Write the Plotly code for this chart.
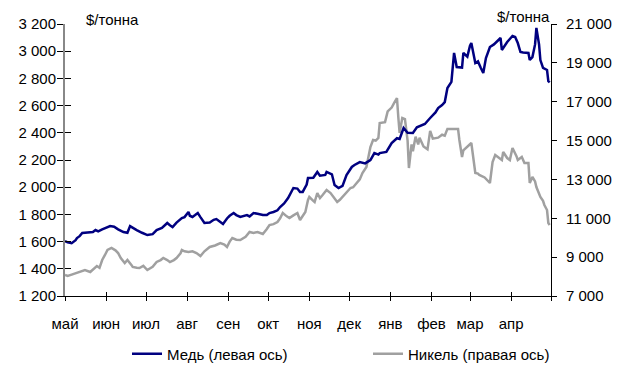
import plotly.graph_objects as go

# LME cash prices, May 2003 - April 2004
copper_dates = [
    "2003-05-01", "2003-05-03", "2003-05-06", "2003-05-09", "2003-05-10", "2003-05-12",
    "2003-05-14", "2003-05-18", "2003-05-22", "2003-05-24", "2003-05-26", "2003-05-29",
    "2003-06-01", "2003-06-04", "2003-06-07", "2003-06-10", "2003-06-14", "2003-06-17",
    "2003-06-19", "2003-06-22", "2003-06-24", "2003-06-28", "2003-07-02", "2003-07-06",
    "2003-07-09", "2003-07-13", "2003-07-17", "2003-07-19", "2003-07-21", "2003-07-24",
    "2003-07-28", "2003-07-30", "2003-08-02", "2003-08-03", "2003-08-05", "2003-08-07",
    "2003-08-09", "2003-08-11", "2003-08-14", "2003-08-18", "2003-08-21", "2003-08-23",
    "2003-08-26", "2003-08-28", "2003-08-31", "2003-09-02", "2003-09-05", "2003-09-07",
    "2003-09-10", "2003-09-13", "2003-09-15", "2003-09-17", "2003-09-20", "2003-09-23",
    "2003-09-27", "2003-09-30", "2003-10-02", "2003-10-05", "2003-10-08", "2003-10-10",
    "2003-10-13", "2003-10-16", "2003-10-20", "2003-10-23", "2003-10-25", "2003-10-27",
    "2003-10-30", "2003-10-31", "2003-11-04", "2003-11-07", "2003-11-09", "2003-11-13",
    "2003-11-14", "2003-11-18", "2003-11-20", "2003-11-23", "2003-11-26", "2003-11-29",
    "2003-12-03", "2003-12-05", "2003-12-09", "2003-12-13", "2003-12-17", "2003-12-20",
    "2003-12-23", "2003-12-24", "2003-12-27", "2003-12-29", "2004-01-02", "2004-01-06",
    "2004-01-08", "2004-01-10", "2004-01-11", "2004-01-14", "2004-01-18", "2004-01-21",
    "2004-01-23", "2004-01-27", "2004-01-31", "2004-02-04", "2004-02-06", "2004-02-09",
    "2004-02-11", "2004-02-13", "2004-02-16", "2004-02-18", "2004-02-20", "2004-02-22",
    "2004-02-24", "2004-02-25", "2004-02-28", "2004-03-01", "2004-03-02", "2004-03-05",
    "2004-03-07", "2004-03-09", "2004-03-11", "2004-03-13", "2004-03-16", "2004-03-19",
    "2004-03-21", "2004-03-24", "2004-03-25", "2004-03-27", "2004-03-29", "2004-04-02",
    "2004-04-04", "2004-04-06", "2004-04-08", "2004-04-10", "2004-04-14", "2004-04-15",
    "2004-04-17", "2004-04-19", "2004-04-20", "2004-04-22", "2004-04-23", "2004-04-25",
    "2004-04-28", "2004-04-29", "2004-04-30",
]
copper_usd = [
    1604, 1595, 1588, 1610, 1626, 1640, 1663, 1667, 1670, 1685, 1675, 1690,
    1700, 1714, 1710, 1690, 1670, 1665, 1714, 1700, 1685, 1665, 1648, 1655,
    1685, 1700, 1737, 1720, 1707, 1740, 1773, 1780, 1818, 1790, 1781, 1795,
    1810, 1780, 1737, 1740, 1760, 1766, 1745, 1729, 1770, 1790, 1810, 1795,
    1781, 1790, 1795, 1785, 1810, 1805, 1795, 1795, 1810, 1818, 1830, 1854,
    1880, 1920, 1994, 1990, 1965, 1965, 2020, 2068, 2070, 2112, 2085, 2090,
    2112, 2095, 2016, 1994, 2010, 2090, 2149, 2163, 2185, 2175, 2200, 2251,
    2240, 2251, 2255, 2259, 2325, 2360, 2355, 2421, 2435, 2400, 2399, 2440,
    2450, 2465, 2509, 2550, 2582, 2604, 2626, 2729, 2774, 2987, 2884, 2884,
    2880, 2987, 2960, 3040, 3060, 2913, 2925, 2880, 2840, 2950, 3031, 3050,
    3068, 3097, 3009, 3040, 3068, 3112, 3104, 3060, 2994, 2990, 2987, 2935,
    2957, 3050, 3171, 3050, 2935, 2877, 2862, 2780, 2770,
]

nickel_dates = [
    "2003-05-01", "2003-05-03", "2003-05-06", "2003-05-10", "2003-05-13", "2003-05-16",
    "2003-05-20", "2003-05-23", "2003-05-25", "2003-05-27", "2003-05-29", "2003-05-31",
    "2003-06-02", "2003-06-05", "2003-06-08", "2003-06-10", "2003-06-12", "2003-06-15",
    "2003-06-17", "2003-06-20", "2003-06-21", "2003-06-24", "2003-06-26", "2003-06-29",
    "2003-07-02", "2003-07-06", "2003-07-09", "2003-07-12", "2003-07-14", "2003-07-17",
    "2003-07-19", "2003-07-22", "2003-07-24", "2003-07-27", "2003-07-28", "2003-07-30",
    "2003-08-02", "2003-08-05", "2003-08-08", "2003-08-11", "2003-08-14", "2003-08-18",
    "2003-08-22", "2003-08-26", "2003-08-29", "2003-08-31", "2003-09-02", "2003-09-04",
    "2003-09-07", "2003-09-10", "2003-09-14", "2003-09-17", "2003-09-20", "2003-09-23",
    "2003-09-25", "2003-09-27", "2003-09-30", "2003-10-02", "2003-10-05", "2003-10-08",
    "2003-10-10", "2003-10-12", "2003-10-15", "2003-10-17", "2003-10-20", "2003-10-23",
    "2003-10-25", "2003-10-26", "2003-10-29", "2003-10-31", "2003-11-01", "2003-11-04",
    "2003-11-05", "2003-11-07", "2003-11-09", "2003-11-11", "2003-11-14", "2003-11-17",
    "2003-11-19", "2003-11-22", "2003-11-24", "2003-11-26", "2003-11-29", "2003-12-02",
    "2003-12-04", "2003-12-07", "2003-12-09", "2003-12-11", "2003-12-13", "2003-12-14",
    "2003-12-17", "2003-12-19", "2003-12-21", "2003-12-23", "2003-12-24", "2003-12-28",
    "2003-12-30", "2004-01-02", "2004-01-04", "2004-01-06", "2004-01-07", "2004-01-08",
    "2004-01-10", "2004-01-12", "2004-01-14", "2004-01-15", "2004-01-17", "2004-01-18",
    "2004-01-20", "2004-01-22", "2004-01-23", "2004-01-26", "2004-01-29", "2004-01-31",
    "2004-02-02", "2004-02-06", "2004-02-09", "2004-02-11", "2004-02-13", "2004-02-17",
    "2004-02-21", "2004-02-22", "2004-02-24", "2004-02-25", "2004-02-28", "2004-03-02",
    "2004-03-05", "2004-03-07", "2004-03-08", "2004-03-12", "2004-03-16", "2004-03-18",
    "2004-03-20", "2004-03-23", "2004-03-25", "2004-03-26", "2004-03-29", "2004-03-31",
    "2004-04-02", "2004-04-05", "2004-04-06", "2004-04-09", "2004-04-11", "2004-04-14",
    "2004-04-15", "2004-04-17", "2004-04-19", "2004-04-20", "2004-04-23", "2004-04-25",
    "2004-04-26", "2004-04-28", "2004-04-29", "2004-04-30",
]
nickel_usd = [
    8081, 8030, 8100, 8184, 8250, 8338, 8235, 8400, 8544, 8450, 8853, 9100,
    9368, 9471, 9350, 9213, 8950, 8699, 8853, 8600, 8493, 8450, 8441, 8550,
    8338, 8500, 8750, 8850, 8956, 8850, 8750, 8850, 8956, 9200, 9368, 9300,
    9265, 9300, 9213, 9059, 9300, 9522, 9600, 9728, 9650, 9522, 9800, 9985,
    9900, 9882, 10050, 10294, 10250, 10294, 10250, 10191, 10450, 10654, 10700, 10809,
    11000, 11272, 11100, 11015, 11150, 11272, 10912, 11015, 11323, 11941, 12096, 11900,
    11838, 12301, 12044, 12200, 12456, 12300, 12096, 11838, 11950, 12096, 12300, 12559,
    12600, 12816, 13000, 13330, 13500, 13640, 14669, 15029, 15000, 15132, 15904, 15950,
    16500, 16700, 16950, 17191, 16213, 15390, 16162, 16100, 15000, 13588, 14800, 14450,
    15200, 14800, 15150, 14700, 14550, 15500, 15100, 15150, 15300, 15250, 15600, 15600,
    15600, 15029, 14154, 14500, 14700, 14875, 13330, 13300, 13228, 13100, 12816, 13897,
    14257, 14100, 14000, 14412, 14100, 14000, 14618, 14200, 14000, 14154, 13845, 13845,
    12816, 13125, 12900, 12610, 12096, 11900, 11684, 11426, 10757, 10654,
]

month_starts = [
    "2003-05-01", "2003-06-01", "2003-07-01", "2003-08-01", "2003-09-01", "2003-10-01",
    "2003-11-01", "2003-12-01", "2004-01-01", "2004-02-01", "2004-03-01", "2004-04-01",
    "2004-05-01",
]
month_labels = ["май", "июн", "июл", "авг", "сен", "окт", "ноя", "дек",
                "янв", "фев", "мар", "апр", ""]

copper_ticks = list(range(1200, 3201, 200))
nickel_ticks = list(range(7000, 21001, 2000))

FONT = "Liberation Sans, Arial, sans-serif"
NAVY = "#000080"
GREY = "#a0a0a0"
X_RANGE = ["2003-05-01", "2004-05-01"]

axis_font = dict(family=FONT, size=15, color="#000000")

fig = go.Figure()
# nickel first so the copper line is drawn on top
fig.add_trace(go.Scatter(
    x=nickel_dates, y=nickel_usd, mode="lines", name="Никель (правая ось)",
    line=dict(color=GREY, width=2.5), xaxis="x", yaxis="y2", legend="legend2",
))
fig.add_trace(go.Scatter(
    x=copper_dates, y=copper_usd, mode="lines", name="Медь (левая ось)",
    line=dict(color=NAVY, width=2.5), xaxis="x", yaxis="y", legend="legend",
))
# empty trace so the overlay tick axes are drawn
fig.add_trace(go.Scatter(x=[], y=[], xaxis="x2", yaxis="y3", showlegend=False, hoverinfo="skip"))

legend_style = dict(
    orientation="h", xref="container", yref="container",
    xanchor="left", yanchor="middle", y=0.0407,
    font=dict(family=FONT, size=15, color="#000000"),
    bgcolor="rgba(0,0,0,0)", borderwidth=0,
)

fig.update_layout(
    width=623, height=369,
    margin=dict(l=65, r=72, t=24, b=73, autoexpand=False),
    paper_bgcolor="white", plot_bgcolor="white",
    separators=". ",
    font=axis_font,
    showlegend=True,
    legend=dict(x=127 / 623, **legend_style),
    legend2=dict(x=368 / 623, **legend_style),
    # date axis with month ticks (outer half of the cross tick)
    xaxis=dict(
        type="date", range=X_RANGE, tickmode="array",
        tickvals=month_starts, ticktext=month_labels,
        ticks="outside", ticklen=4, tickwidth=1, tickcolor="#000000",
        showline=True, linecolor="#000000", linewidth=1,
        showgrid=False, zeroline=False, tickfont=axis_font,
        ticklabelstandoff=10, anchor="y2", automargin=False,
    ),
    # inner half of the cross tick
    xaxis2=dict(
        type="date", range=X_RANGE, tickmode="array", tickvals=month_starts,
        ticks="inside", ticklen=4, tickwidth=1, tickcolor="#000000",
        showticklabels=False, showline=False, showgrid=False, zeroline=False,
        overlaying="x", anchor="y2", automargin=False,
    ),
    # right axis: nickel
    yaxis2=dict(
        range=[7000, 21000], tickmode="array", tickvals=nickel_ticks,
        tickformat=",d", ticks="outside", ticklen=5, tickwidth=1,
        tickcolor="#000000", showline=True, linecolor="#000000", linewidth=1,
        showgrid=False, zeroline=False, tickfont=axis_font,
        side="right", anchor="x", ticklabelstandoff=6, automargin=False,
    ),
    # left axis: copper
    yaxis=dict(
        range=[1200, 3200], tickmode="array", tickvals=copper_ticks,
        tickformat=",d", ticks="outside", ticklen=6, tickwidth=1,
        tickcolor="#000000", showline=True, linecolor="#888888", linewidth=2,
        showgrid=False, zeroline=False, tickfont=axis_font,
        side="left", overlaying="y2", anchor="x", ticklabelstandoff=-2,
        automargin=False,
    ),
    yaxis3=dict(
        range=[1200, 3200], tickmode="array", tickvals=copper_ticks,
        ticks="inside", ticklen=6, tickwidth=1, tickcolor="#000000",
        showticklabels=False, showline=False, showgrid=False, zeroline=False,
        overlaying="y2", side="left", anchor="x2", automargin=False,
    ),
    annotations=[
        dict(text="$/тонна", xref="paper", yref="paper", x=0.040, y=1.018,
             xanchor="left", yanchor="middle", showarrow=False,
             font=dict(family=FONT, size=15, color="#000000")),
        dict(text="$/тонна", xref="paper", yref="paper", x=1.002, y=1.029,
             xanchor="right", yanchor="middle", showarrow=False,
             font=dict(family=FONT, size=15, color="#000000")),
    ],
)

fig.write_html("out.html")
